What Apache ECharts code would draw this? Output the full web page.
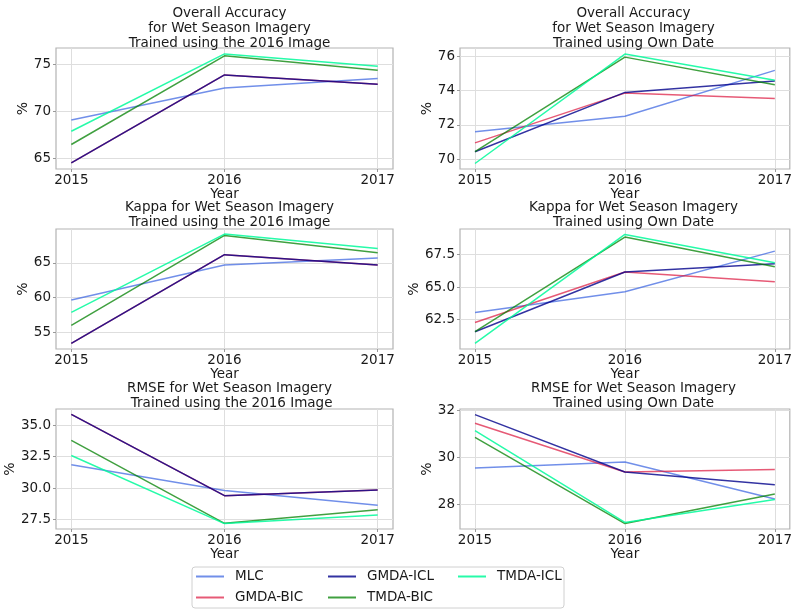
<!DOCTYPE html>
<html>
<head>
<meta charset="utf-8">
<script src="https://cdn.jsdelivr.net/npm/echarts@6/dist/echarts.min.js"></script>
<style>
  html, body { margin: 0; padding: 0; background: #fff; }
  #chart { width: 795px; height: 609px; }
</style>
</head>
<body>
<div id="chart"></div>
<script>
const years = [2015, 2016, 2017]
const names = ['MLC', 'GMDA-BIC', 'GMDA-ICL', 'TMDA-BIC', 'TMDA-ICL']

// overall accuracy, trained with 2016 image
const oaFixedMlc = [69.1, 72.5, 73.5]
const oaFixedGmdaBic = [64.55, 73.87, 72.88]
const oaFixedGmdaIcl = [64.55, 73.87, 72.88]
const oaFixedTmdaBic = [66.5, 75.9, 74.36]
const oaFixedTmdaIcl = [67.9, 76.1, 74.8]
// overall accuracy, own date
const oaOwnMlc = [71.6, 72.51, 75.17]
const oaOwnGmdaBic = [70.96, 73.85, 73.54]
const oaOwnGmdaIcl = [70.44, 73.89, 74.55]
const oaOwnTmdaBic = [70.45, 75.94, 74.33]
const oaOwnTmdaIcl = [69.76, 76.12, 74.6]
// kappa, 2016 image
const kFixedMlc = [59.67, 64.7, 65.72]
const kFixedGmdaBic = [53.42, 66.2, 64.7]
const kFixedGmdaIcl = [53.42, 66.2, 64.7]
const kFixedTmdaBic = [56.0, 68.98, 66.48]
const kFixedTmdaIcl = [57.88, 69.17, 67.1]
// kappa, own date
const kOwnMlc = [63.06, 64.65, 67.78]
const kOwnGmdaBic = [62.29, 66.17, 65.42]
const kOwnGmdaIcl = [61.58, 66.17, 66.81]
const kOwnTmdaBic = [61.58, 68.86, 66.58]
const kOwnTmdaIcl = [60.68, 69.06, 66.88]
// rmse, 2016 image
const rFixedMlc = [31.86, 29.81, 28.62]
const rFixedGmdaBic = [35.88, 29.39, 29.84]
const rFixedGmdaIcl = [35.88, 29.39, 29.84]
const rFixedTmdaBic = [33.8, 27.18, 28.27]
const rFixedTmdaIcl = [32.6, 27.16, 27.85]
// rmse, own date
const rOwnMlc = [29.55, 29.81, 28.23]
const rOwnGmdaBic = [31.46, 29.38, 29.49]
const rOwnGmdaIcl = [31.83, 29.38, 28.84]
const rOwnTmdaBic = [30.86, 27.18, 28.44]
const rOwnTmdaIcl = [31.15, 27.23, 28.21]

// y tick labels per panel
const ticksOaFixed = [65, 70, 75]
const ticksOaOwn = [70, 72, 74, 76]
const ticksKFixed = [55, 60, 65]
const ticksKOwn = [62.5, 65, 67.5]
const ticksRFixed = [27.5, 30, 32.5, 35]
const ticksROwn = [28, 30, 32]

const colors = {
  'MLC': 'rgba(65,105,225,0.75)',
  'GMDA-BIC': 'rgba(220,20,60,0.7)',
  'GMDA-ICL': 'rgba(0,0,139,0.8)',
  'TMDA-BIC': 'rgba(0,128,0,0.75)',
  'TMDA-ICL': 'rgba(0,250,154,0.85)'
}

const font = 'DejaVu Sans'
const textColor = '#1a1a1a'

const panels = [
  { title: 'Overall Accuracy\nfor Wet Season Imagery\nTrained using the 2016 Image', titleTop: 1,
    left: 56, top: 48, height: 121, min: 63.9, max: 76.73, ticks: ticksOaFixed, dec: 0, nameGap: 21,
    data: [oaFixedMlc, oaFixedGmdaBic, oaFixedGmdaIcl, oaFixedTmdaBic, oaFixedTmdaIcl] },
  { title: 'Overall Accuracy\nfor Wet Season Imagery\nTrained using Own Date', titleTop: 1,
    left: 460, top: 48, height: 121, min: 69.44, max: 76.47, ticks: ticksOaOwn, dec: 0, nameGap: 22,
    data: [oaOwnMlc, oaOwnGmdaBic, oaOwnGmdaIcl, oaOwnTmdaBic, oaOwnTmdaIcl] },
  { title: 'Kappa for Wet Season Imagery\nTrained using the 2016 Image', titleTop: 195,
    left: 56, top: 229, height: 120, min: 52.6, max: 69.9, ticks: ticksKFixed, dec: 0, nameGap: 21,
    data: [kFixedMlc, kFixedGmdaBic, kFixedGmdaIcl, kFixedTmdaBic, kFixedTmdaIcl] },
  { title: 'Kappa for Wet Season Imagery\nTrained using Own Date', titleTop: 195,
    left: 460, top: 229, height: 120, min: 60.25, max: 69.48, ticks: ticksKOwn, dec: 1, nameGap: 34,
    data: [kOwnMlc, kOwnGmdaBic, kOwnGmdaIcl, kOwnTmdaBic, kOwnTmdaIcl] },
  { title: 'RMSE for Wet Season Imagery\n Trained using the 2016 Image', titleTop: 376,
    left: 56, top: 409, height: 120, min: 26.73, max: 36.31, ticks: ticksRFixed, dec: 1, nameGap: 35,
    data: [rFixedMlc, rFixedGmdaBic, rFixedGmdaIcl, rFixedTmdaBic, rFixedTmdaIcl] },
  { title: 'RMSE for Wet Season Imagery\nTrained using Own Date', titleTop: 376,
    left: 460, top: 409, height: 120, min: 26.95, max: 32.07, ticks: ticksROwn, dec: 0, nameGap: 22,
    data: [rOwnMlc, rOwnGmdaBic, rOwnGmdaIcl, rOwnTmdaBic, rOwnTmdaIcl] }
]

const plotWidth = 337

// legend slots, column-major like the original
const legendSlots = [
  { name: 'MLC', left: 196, top: 569 },
  { name: 'GMDA-BIC', left: 196, top: 590 },
  { name: 'GMDA-ICL', left: 328, top: 569 },
  { name: 'TMDA-BIC', left: 328, top: 590 },
  { name: 'TMDA-ICL', left: 458, top: 569 }
]

const option = {
  backgroundColor: '#fff',
  animation: false,
  textStyle: { fontFamily: font },
  title: panels.map(p => ({
    text: p.title,
    left: p.left + plotWidth / 2,
    top: p.titleTop,
    textAlign: 'center',
    textStyle: { fontFamily: font, fontSize: 13.5, fontWeight: 'normal', color: textColor, lineHeight: 15 }
  })),
  grid: panels.map(p => ({
    left: p.left, top: p.top, width: plotWidth, height: p.height,
    show: true, borderColor: '#b3b3b3', borderWidth: 1.2, backgroundColor: 'transparent'
  })),
  xAxis: panels.map((p, i) => ({
    type: 'value', gridIndex: i, min: 2014.9, max: 2017.1,
    name: 'Year', nameLocation: 'middle', nameGap: 17,
    nameTextStyle: { fontFamily: font, fontSize: 13.5, color: textColor },
    axisLine: { show: false },
    axisTick: { show: true, length: 3, lineStyle: { color: '#999' }, customValues: years },
    axisLabel: { customValues: years, margin: 4, fontFamily: font, fontSize: 13.5, color: textColor,
      formatter: v => String(v) },
    splitLine: { show: true, lineStyle: { color: '#dedede', width: 1 } }
  })),
  yAxis: panels.map((p, i) => ({
    type: 'value', gridIndex: i, min: p.min, max: p.max,
    name: '%', nameLocation: 'middle', nameGap: p.nameGap, nameRotate: 90,
    nameTextStyle: { fontFamily: font, fontSize: 14, color: textColor },
    axisLine: { show: false },
    axisTick: { show: true, length: 3, lineStyle: { color: '#999' }, customValues: p.ticks },
    axisLabel: { customValues: p.ticks, margin: 5, fontFamily: font, fontSize: 13.5, color: textColor,
      formatter: v => v.toFixed(p.dec) },
    splitLine: { show: true, lineStyle: { color: '#dedede', width: 1 } }
  })),
  legend: legendSlots.map(s => ({
    data: [s.name],
    left: s.left,
    top: s.top,
    padding: 0,
    icon: 'rect',
    itemWidth: 28,
    itemHeight: 2,
    textStyle: { fontFamily: font, fontSize: 13.5, color: textColor, padding: [0, 0, 0, 6], lineHeight: 15 }
  })),
  graphic: [{
    type: 'rect',
    shape: { x: 192, y: 567, width: 372, height: 41, r: 3 },
    style: { fill: 'none', stroke: '#d0d0d0', lineWidth: 1 }
  }],
  series: []
}

panels.forEach((p, i) => {
  p.data.forEach((vals, k) => {
    const name = names[k]
    option.series.push({
      name,
      type: 'line',
      xAxisIndex: i,
      yAxisIndex: i,
      showSymbol: false,
      symbol: 'none',
      silent: true,
      color: colors[name],
      lineStyle: { width: 1.5, color: colors[name] },
      itemStyle: { color: colors[name] },
      data: vals.map((v, j) => [years[j], v])
    })
  })
})

const chart = echarts.init(document.getElementById('chart'))
chart.setOption(option)
</script>
</body>
</html>
